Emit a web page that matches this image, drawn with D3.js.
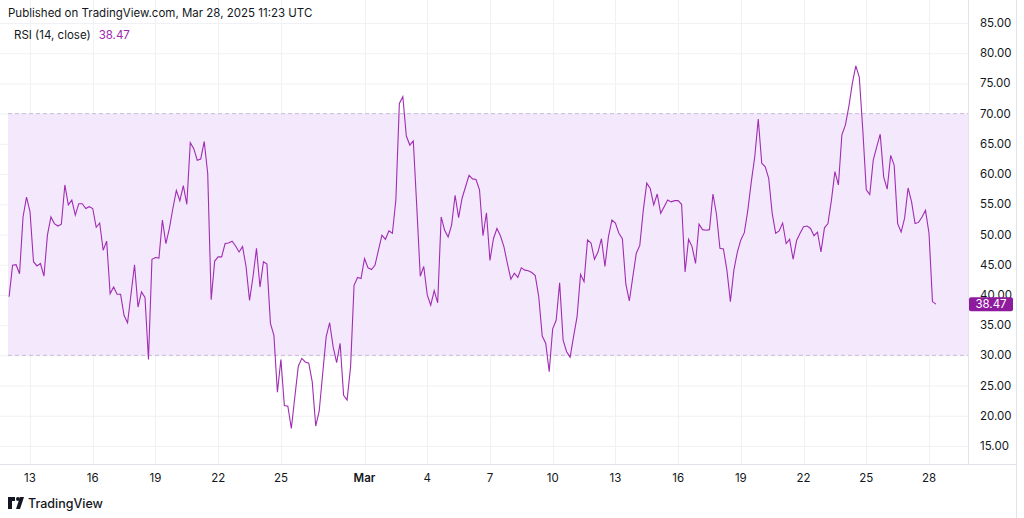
<!DOCTYPE html>
<html>
<head>
<meta charset="utf-8">
<script src="https://cdn.jsdelivr.net/npm/d3@7/dist/d3.min.js"></script>
<style>
  body { margin: 0; background: #fff; font-family: "Inter", "Roboto", sans-serif; }
  svg text { font-family: "Inter", "Roboto", sans-serif; }
</style>
</head>
<body>
<svg id="chart" width="1024" height="518"></svg>
<script>
'use strict';

// RSI(14) readings, 4h bars, Feb 12 00:00 -> Mar 28 08:00 (UTC)
var rsiValues = [
  39.7, 44.9, 45, 43.5, 52.9, 56.2, 53.8, 45.5, 44.8, 45.2, 43.1, 49.9, 52.9, 51.8, 51.4, 51.7,
  58.2, 54.9, 55.7, 53.2, 55.1, 55.1, 54.3, 54.6, 54.3, 51.2, 51.9, 47.4, 48.9, 40.2, 41.3, 40.1,
  40.1, 36.6, 35.4, 40.2, 45, 38, 40.5, 39.6, 29.3, 45.9, 46.2, 46.1, 52.4, 48.5, 51, 54.3, 57.3,
  55.6, 58.1, 55, 65.2, 64.2, 62.3, 62.5, 65.4, 60.1, 39.2, 45.6, 46.3, 46.3, 48.5, 48.6, 48.9,
  48.1, 47.1, 48, 44.7, 39.1, 43, 47.7, 41.3, 45.5, 45.1, 35.3, 33.3, 23.9, 29.3, 21.7, 21.6, 17.9,
  23.1, 28.2, 29.5, 28.9, 28.7, 25.6, 18.3, 20.8, 27, 33.1, 35.4,
  31.4, 28.8, 32, 23.4, 22.6, 28.1, 41.6, 42.9, 42.7, 46, 44.5, 44.2, 44.9, 47.4, 49.9, 49.2, 50.6,
  50.2, 55.7, 71.7, 72.8, 66.3, 64.8, 65.5, 54.6, 43.1, 44.7, 40, 38.3, 40.7, 38.7, 52.9, 50.7,
  49.6, 51.6, 56.5, 52.8, 56, 57.9, 59.8, 59.2, 59.1, 57.4, 49.8, 53.6, 45.7, 49.3, 51, 49.8, 48,
  45.2, 42.6, 43.6, 42.9, 44.5, 44.1, 44, 43.7, 43.2, 39.7, 33.2, 32, 27.3, 34.4, 35.8, 42, 32.5,
  30.6, 29.7, 33.1, 36.4, 43.4, 42.2, 49.1, 48.6, 45.9, 47.1, 49.3, 44.7, 49.6, 52.4, 51.9, 50.2,
  49.3, 41.8, 39, 43, 46.9, 48.2,
  54, 58.5, 57.6, 54.9, 56.7, 53.5, 54.6, 55.7, 55.4, 55.6, 55.6, 55, 43.8, 49.2, 48, 45.2, 51.7,
  50.8, 50.7, 50.8, 56.7, 53.4, 47.7, 47.6, 44.1, 38.9, 44.1, 47.1, 49.1, 50.3, 54, 58.7, 62.9,
  69.1, 61.8, 61.2, 59.3, 53.5, 50.2, 50.6, 51.9, 48.5, 49.2, 45.9, 49, 50.2, 51.3, 51.4, 51, 49.8,
  50.4, 47.1, 51.1, 51.8, 55.7, 60.4, 58.2, 66.5, 68.1, 71.2, 75, 77.9, 76, 67.3, 57.4, 56.6, 62.3,
  64.5, 66.6, 59.5, 57.5, 63.1, 61.5, 51.8, 50.4, 52.7, 57.7, 55.4, 51.8, 52, 52.9, 54, 50.2, 38.9,
  38.47
];
var startTime = new Date(Date.UTC(2025, 1, 12, 0));
var endTime = new Date(Date.UTC(2025, 2, 28, 8));
var yTicks = [15, 20, 25, 30, 35, 40, 45, 50, 55, 60, 65, 70, 75, 80, 85];
var bandLevels = [30, 70];
var xTickDates = [
  [2025, 1, 13], [2025, 1, 16], [2025, 1, 19], [2025, 1, 22], [2025, 1, 25], [2025, 2, 1],
  [2025, 2, 4], [2025, 2, 7], [2025, 2, 10], [2025, 2, 13], [2025, 2, 16], [2025, 2, 19],
  [2025, 2, 22], [2025, 2, 25], [2025, 2, 28]
];
var lastValue = 38.47;

var svg = d3.select('#chart');
var W = 1024, plotRight = 968, plotBottom = 464;

var step = (endTime - startTime) / (rsiValues.length - 1);
var points = rsiValues.map(function (v, i) {
  return { t: new Date(+startTime + i * step), v: v };
});

var x = d3.scaleUtc()
  .domain([Date.UTC(2025, 1, 13), Date.UTC(2025, 2, 28)])
  .range([30, 929]);
var y = d3.scaleLinear().domain([85, 15]).range([23, 446]);

// grid
var grid = svg.append('g');
grid.selectAll('.hg').data(yTicks).enter().append('line')
  .attr('x1', 0).attr('x2', plotRight)
  .attr('y1', function (d) { return y(d) + 0.5; }).attr('y2', function (d) { return y(d) + 0.5; })
  .attr('stroke', '#f0f1f4');
var tickDates = xTickDates.map(function (d) { return new Date(Date.UTC(d[0], d[1], d[2])); });
grid.selectAll('.vg').data(tickDates).enter().append('line')
  .attr('x1', function (d) { return Math.round(x(d)) + 0.5; })
  .attr('x2', function (d) { return Math.round(x(d)) + 0.5; })
  .attr('y1', 0).attr('y2', plotBottom)
  .attr('stroke', '#f0f1f4');

// 30-70 band
svg.append('rect')
  .attr('x', 8).attr('width', plotRight - 8)
  .attr('y', y(bandLevels[1])).attr('height', y(bandLevels[0]) - y(bandLevels[1]))
  .attr('fill', 'rgba(126, 87, 194, 0.1)')
  .attr('fill', '#f3e6fd').attr('fill-opacity', 0.9);
svg.selectAll('.lvl').data(bandLevels).enter().append('line')
  .attr('x1', 8).attr('x2', plotRight)
  .attr('y1', function (d) { return y(d); }).attr('y2', function (d) { return y(d); })
  .attr('stroke', '#c9bcd6').attr('stroke-dasharray', '4,3');

// RSI line
svg.append('path')
  .datum(points)
  .attr('fill', 'none')
  .attr('stroke', '#a02db2')
  .attr('stroke-width', 1.1)
  .attr('d', d3.line().x(function (d) { return x(d.t); }).y(function (d) { return y(d.v); }));

// axes borders
svg.append('line').attr('x1', plotRight + 0.5).attr('x2', plotRight + 0.5)
  .attr('y1', 0).attr('y2', plotBottom).attr('stroke', '#e0e3eb');
svg.append('line').attr('x1', 0).attr('x2', 1016)
  .attr('y1', plotBottom + 0.5).attr('y2', plotBottom + 0.5).attr('stroke', '#e0e3eb');
svg.append('line').attr('x1', 1016.5).attr('x2', 1016.5)
  .attr('y1', 0).attr('y2', 518).attr('stroke', '#e0e3eb');

// y labels
svg.selectAll('.yl').data(yTicks).enter().append('text')
  .attr('x', 980).attr('y', function (d) { return y(d) + 4; })
  .attr('font-size', 11.5).attr('fill', '#131722')
  .text(function (d) { return d.toFixed(2); });

// x labels
var fmt = function (d) { return d.getUTCDate() === 1 ? 'Mar' : String(d.getUTCDate()); };
svg.selectAll('.xl').data(tickDates).enter().append('text')
  .attr('x', function (d) { return x(d); }).attr('y', 482)
  .attr('text-anchor', 'middle')
  .attr('font-size', 11.5).attr('fill', '#131722')
  .attr('font-weight', function (d) { return d.getUTCDate() === 1 ? 600 : 400; })
  .text(fmt);

// last value tag
var ty = y(lastValue);
svg.append('rect').attr('x', 969).attr('y', ty - 7).attr('width', 44).attr('height', 14)
  .attr('rx', 2).attr('fill', '#8e1a9e');
svg.append('text').attr('x', 991).attr('y', ty + 4).attr('text-anchor', 'middle')
  .attr('font-size', 11.5).attr('fill', '#fff').text(lastValue.toFixed(2));

// header texts
svg.append('text').attr('x', 8).attr('y', 17).attr('font-size', 11.5).attr('fill', '#131722')
  .text('Published on TradingView.com, Mar 28, 2025 11:23 UTC');
var leg = svg.append('text').attr('x', 14).attr('y', 39).attr('font-size', 11.5).attr('fill', '#131722');
leg.append('tspan').text('RSI (14, close)');
leg.append('tspan').attr('dx', 8).attr('fill', '#9c27b0').text(lastValue.toFixed(2));

// footer logo
var logo = svg.append('g').attr('transform', 'translate(8,497)');
logo.append('path').attr('d', 'M0,0h7v4h-3v8h-4z M8,12l4-12h4l-4,12z').attr('fill', '#131722');
logo.append('circle').attr('cx', 10).attr('cy', 2).attr('r', 2).attr('fill', '#131722');
svg.append('text').attr('x', 28).attr('y', 508).attr('font-size', 12.5).attr('fill', '#131722')
  .attr('font-weight', 500).text('TradingView');
</script>
</body>
</html>
